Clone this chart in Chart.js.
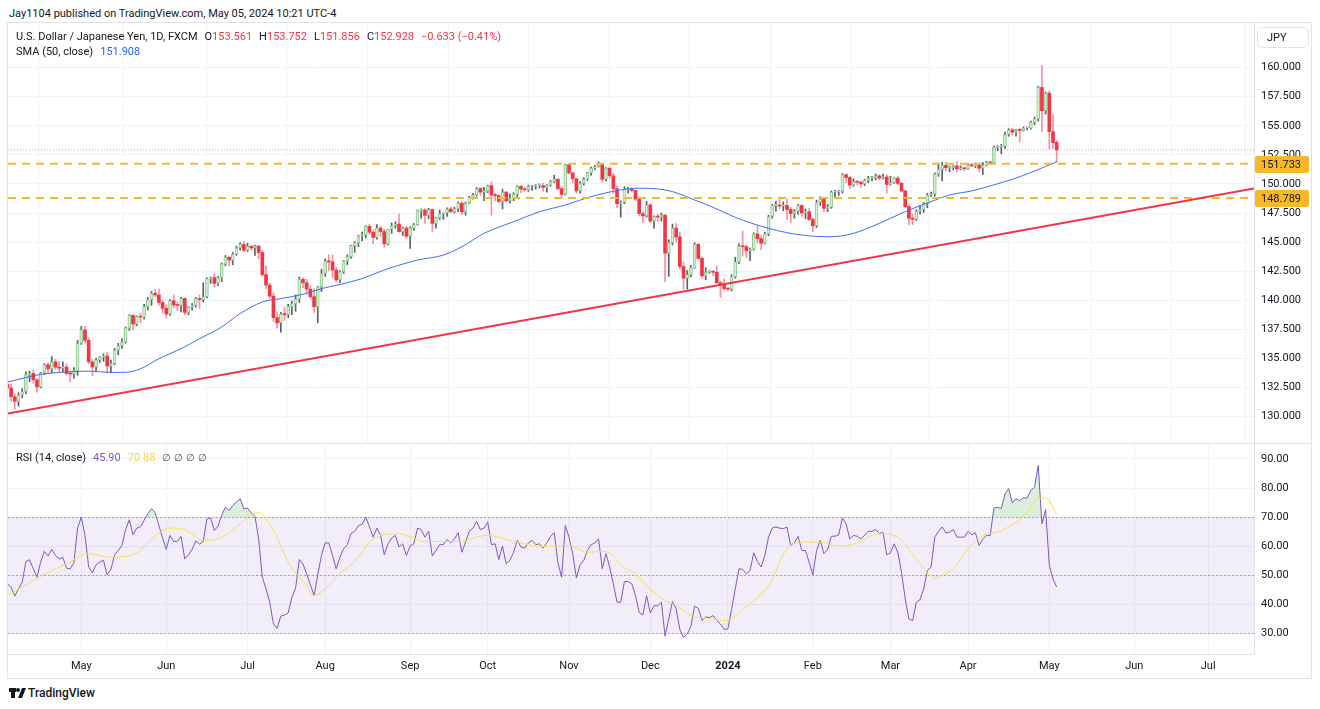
<!DOCTYPE html>
<html>
<head>
<meta charset="utf-8">
<script src="https://cdn.jsdelivr.net/npm/chart.js@4.4.1/dist/chart.umd.min.js"></script>
<style>
  html, body { margin:0; padding:0; background:#fff; }
  body { width:1320px; height:709px; position:relative; overflow:hidden; font-family: Roboto, "Noto Sans", sans-serif; color:#131722; font-size:11px; }
  .abs { position:absolute; white-space:nowrap; line-height:14px; }
  #frame { position:absolute; left:7px; top:22px; width:1305px; height:657px; border:1px solid #e0e3eb; box-sizing:border-box; }
  canvas { display:block; }
  .red { color:#f23645; }
  .blue { color:#2962ff; }
  .purple { color:#7e57c2; }
  .yellow { color:#f5d73b; }
  .gap { margin-left:7px; }
</style>
</head>
<body>
<div class="abs" style="left:9px;top:7px;">Jay1104 published on TradingView.com, May 05, 2024 10:21 UTC-4</div>
<div id="frame"></div>
<div class="abs" style="left:8px;top:23px;width:1303px;height:420px;"><canvas id="priceChart" width="1303" height="420"></canvas></div>
<div class="abs" style="left:8px;top:443px;width:1303px;height:1px;background:#e0e3eb;"></div>
<div class="abs" style="left:8px;top:444px;width:1303px;height:234px;"><canvas id="rsiChart" width="1303" height="234"></canvas></div>

<div class="abs" style="left:16px;top:30px;">U.S. Dollar / Japanese Yen, 1D, FXCM<span class="gap">O</span><span class="red">153.561</span><span class="gap">H</span><span class="red">153.752</span><span class="gap">L</span><span class="red">151.856</span><span class="gap">C</span><span class="red">152.928</span><span class="gap red">−0.633 (−0.41%)</span></div>
<div class="abs" style="left:16px;top:45px;">SMA (50, close)<span class="gap blue">151.908</span></div>
<div class="abs" style="left:16px;top:451px;">RSI (14, close)<span class="gap purple">45.90</span><span class="gap yellow">70.88</span><span class="gap" style="color:#50535e;font-size:10px;letter-spacing:3px;">∅∅∅∅</span></div>
<div class="abs" style="left:1257px;top:27px;width:52px;height:21px;border:1px solid #e0e3eb;border-radius:6px;box-sizing:border-box;line-height:19px;padding-left:9px;font-size:11px;">JPY</div>

<div class="abs" style="left:9px;top:688px;width:7px;height:4px;background:#131722;"></div>
<div class="abs" style="left:11px;top:688px;width:4px;height:10px;background:#131722;"></div>
<div class="abs" style="left:16px;top:688px;width:4px;height:4px;border-radius:2px;background:#131722;"></div>
<div class="abs" style="left:20px;top:688px;width:4px;height:10px;background:#131722;transform:skewX(-22deg);"></div>
<div class="abs" style="left:28px;top:686px;font-size:12px;font-weight:500;">TradingView</div>

<script>
// ---------- DATA (daily USD/JPY, FXCM, bar index 0 = 3 Apr 2023) ----------
const open = [
132.75,132.45,131.70,131.30,131.85,132.15,133.60,133.70,133.15,132.55,
133.75,134.45,134.10,134.70,134.25,134.15,134.25,133.70,133.65,133.95,
136.30,137.45,136.55,134.70,134.25,134.85,135.10,135.20,134.35,134.55,
135.70,136.10,136.40,137.60,138.70,137.95,138.60,138.55,139.45,140.05,
140.60,140.45,139.80,139.30,138.80,139.95,139.60,139.55,140.15,138.95,
139.40,139.55,140.15,140.05,140.30,141.85,141.95,141.45,141.95,143.10,
143.70,143.45,143.95,144.50,144.80,144.30,144.65,144.50,144.65,144.10,
142.20,141.30,140.35,138.50,138.05,138.80,138.75,139.45,139.70,140.10,
141.80,141.50,140.95,140.30,139.45,141.15,142.30,143.35,143.30,142.60,
141.75,142.45,143.35,143.75,144.70,144.95,145.55,145.60,146.35,145.85,
145.40,146.20,145.90,144.85,146.10,146.40,146.55,145.90,146.20,145.50,
146.20,146.50,147.70,147.75,147.30,147.80,146.60,147.10,147.45,147.50,
147.85,147.60,147.85,148.35,147.60,148.35,148.85,149.05,149.60,149.30,
149.35,149.85,149.05,149.00,148.50,149.30,148.55,148.75,149.10,149.80,
149.55,149.50,149.80,149.80,149.85,149.85,149.70,149.90,150.20,150.40,
149.60,149.10,151.65,150.95,150.45,149.40,150.05,150.40,150.95,151.35,
151.50,151.70,150.40,151.35,150.70,149.60,148.30,148.40,149.55,149.55,
149.45,148.70,147.45,147.25,148.20,146.80,147.20,147.15,147.30,144.05,
144.95,146.20,145.45,142.90,141.90,142.20,142.80,144.80,143.60,142.10,
142.40,142.45,142.40,141.50,141.40,141.00,140.95,142.00,143.30,144.65,
144.60,144.25,144.40,145.70,145.30,144.90,145.70,147.20,148.15,148.15,
148.10,148.15,147.80,147.45,147.65,148.15,147.50,147.60,146.95,146.40,
148.40,148.70,147.90,148.00,149.30,149.30,149.35,150.80,150.55,149.90,
150.20,150.15,150.00,150.30,150.50,150.50,150.70,150.50,150.60,149.95,
150.10,150.50,150.05,149.40,148.05,147.05,146.95,147.65,147.80,148.30,
149.05,149.15,150.85,151.25,151.60,151.40,151.40,151.55,151.30,151.35,
151.30,151.65,151.55,151.60,151.35,151.60,151.85,151.80,153.15,153.20,
153.25,154.25,154.65,154.45,154.70,154.60,154.80,154.80,155.30,155.60,
158.30,156.30,157.80,154.50,153.561];
const high = [
133.00,132.80,131.95,132.05,132.40,133.85,133.90,134.00,133.25,133.80,
134.55,134.60,135.15,134.90,134.75,134.70,134.55,133.90,134.20,136.55,
137.75,137.75,136.75,134.90,135.00,135.15,135.40,135.50,134.85,135.85,
136.30,136.70,137.70,138.75,138.75,138.65,138.90,139.65,140.25,140.75,
140.95,140.95,140.00,139.60,140.05,140.45,139.85,140.25,140.20,139.45,
139.70,140.25,140.45,141.50,141.95,142.00,142.25,142.05,143.20,143.85,
143.75,144.10,144.65,144.95,145.05,144.90,144.70,144.75,144.70,144.30,
142.95,141.45,140.65,139.00,138.95,139.40,139.65,139.95,140.45,142.00,
141.95,141.80,141.30,141.00,141.20,142.65,143.55,143.90,143.90,142.85,
142.55,143.40,143.90,144.75,145.05,145.60,145.85,146.40,146.55,146.05,
146.50,146.40,146.10,146.10,146.65,146.75,147.40,146.30,146.35,146.30,
146.60,147.75,147.85,147.85,147.90,147.85,147.15,147.75,147.50,147.95,
148.00,148.00,148.45,148.45,148.45,148.95,149.20,149.70,149.70,149.70,
149.90,150.16,149.20,149.05,149.55,149.35,149.15,149.25,149.85,149.85,
149.75,149.90,149.90,149.95,150.00,150.05,149.95,150.30,150.75,150.45,
149.80,151.70,151.70,151.00,150.50,150.20,150.55,151.00,151.45,151.60,
151.90,151.75,151.40,151.40,150.90,149.80,148.55,149.75,149.70,149.70,
149.45,148.85,147.60,148.50,148.30,147.25,147.40,147.50,147.40,145.20,
146.55,146.60,145.85,143.30,142.55,143.00,144.95,144.90,143.70,142.80,
142.55,142.55,142.95,141.65,141.85,141.10,142.20,143.70,144.85,145.95,
144.75,144.50,145.80,146.40,145.55,145.85,147.30,148.25,148.50,148.80,
148.45,148.70,148.00,147.80,148.25,148.20,147.85,147.90,147.10,148.60,
148.90,148.80,148.25,149.40,149.45,149.45,150.90,150.85,150.65,150.45,
150.30,150.20,150.40,150.65,150.65,150.85,150.80,150.85,150.80,150.65,
150.55,150.60,150.15,149.45,148.25,147.40,147.80,148.15,148.40,149.20,
149.30,150.95,151.80,151.85,151.85,151.55,151.60,151.95,151.55,151.45,
151.75,151.80,151.80,151.70,151.85,151.95,151.95,153.25,153.30,153.40,
154.45,154.75,154.80,154.70,154.75,154.90,154.90,155.40,155.75,158.40,
160.20,157.90,158.00,155.95,153.752];
const low = [
132.20,131.30,130.63,130.90,131.60,131.95,133.00,132.85,132.10,132.45,
133.60,133.75,133.75,134.05,133.85,133.85,133.55,133.00,133.30,133.55,
136.20,136.30,134.55,133.50,133.90,134.65,134.75,133.75,133.75,134.45,
135.30,135.85,136.30,137.40,137.45,137.80,138.05,138.40,139.15,139.55,
140.30,139.55,138.90,138.45,138.70,139.35,139.10,139.00,138.75,138.75,
139.15,139.40,139.30,139.85,140.20,141.45,141.15,141.25,141.60,142.95,
142.95,143.05,143.85,144.30,144.15,144.20,144.30,143.85,143.55,142.05,
141.00,140.15,138.15,137.60,137.25,138.25,138.50,138.75,139.05,139.80,
141.05,140.50,140.15,138.95,138.05,140.75,142.05,142.55,141.95,141.55,
141.50,142.30,143.05,143.60,144.10,144.60,145.10,145.35,145.65,144.85,
145.25,145.50,144.55,144.75,145.75,146.20,145.85,145.55,145.35,144.45,
146.00,146.45,147.05,146.60,147.00,145.90,146.20,146.95,146.95,147.20,
147.60,147.50,147.60,147.35,147.30,148.30,148.70,148.95,149.05,148.55,
149.25,147.30,148.55,148.40,147.85,148.45,148.35,148.55,148.85,149.25,
149.35,149.35,149.45,149.55,149.65,149.35,149.30,149.80,150.10,149.50,
148.80,149.05,150.85,150.10,149.20,149.20,149.90,150.30,150.75,151.20,
151.45,150.15,150.25,150.50,149.20,147.95,147.15,148.30,149.20,149.30,
148.55,147.25,146.65,147.15,146.70,146.20,146.75,146.80,141.60,142.05,
144.75,145.00,142.70,140.95,140.95,142.00,142.75,143.45,141.90,141.75,
142.30,142.10,141.45,140.25,140.85,140.80,140.80,141.90,143.15,143.80,
143.65,143.40,144.30,144.95,144.35,144.85,145.55,147.05,147.65,147.85,
147.70,146.95,146.65,147.05,147.40,147.20,147.00,146.80,145.90,146.25,
148.15,147.60,147.60,147.90,148.90,149.00,149.20,150.10,149.60,149.80,
149.90,149.70,149.85,150.10,150.25,150.35,150.35,150.40,149.20,149.90,
150.05,149.90,149.30,147.95,146.50,146.50,146.85,147.40,147.55,147.95,
148.90,148.95,150.65,150.25,151.15,151.05,151.20,151.05,151.20,151.15,
151.25,151.50,151.40,151.05,150.80,151.55,151.70,151.75,152.85,152.60,
153.05,154.10,154.20,154.10,153.60,154.55,154.65,154.70,155.10,155.40,
154.50,156.00,153.00,153.05,151.856];
const close = [
132.45,131.70,131.30,131.85,132.15,133.60,133.70,133.15,132.55,133.75,
134.45,134.10,134.70,134.25,134.15,134.25,133.70,133.65,133.95,136.30,
137.45,136.55,134.70,134.25,134.85,135.10,135.20,134.35,134.55,135.70,
136.10,136.40,137.60,138.70,137.95,138.60,138.55,139.45,140.05,140.60,
140.45,139.80,139.30,138.80,139.95,139.60,139.55,140.15,138.95,139.40,
139.55,140.15,140.05,140.30,141.85,141.95,141.45,141.95,143.10,143.70,
143.45,143.95,144.50,144.80,144.30,144.65,144.50,144.65,144.10,142.20,
141.30,140.35,138.50,138.05,138.80,138.75,139.45,139.70,140.10,141.80,
141.50,140.95,140.30,139.45,141.15,142.30,143.35,143.30,142.60,141.75,
142.45,143.35,143.75,144.70,144.95,145.55,145.60,146.35,145.85,145.40,
146.20,145.90,144.85,146.10,146.40,146.55,145.90,146.20,145.50,146.20,
146.50,147.70,147.75,147.30,147.80,146.60,147.10,147.45,147.50,147.85,
147.60,147.85,148.35,147.60,148.35,148.85,149.05,149.60,149.30,149.35,
149.85,149.05,149.00,148.50,149.30,148.55,148.75,149.10,149.80,149.55,
149.50,149.80,149.80,149.85,149.85,149.70,149.90,150.20,150.40,149.60,
149.10,151.65,150.95,150.45,149.40,150.05,150.40,150.95,151.35,151.50,
151.70,150.40,151.35,150.70,149.60,148.30,148.40,149.55,149.55,149.45,
148.70,147.45,147.25,148.20,146.80,147.20,147.15,147.30,144.05,144.95,
146.20,145.45,142.90,141.90,142.20,142.80,144.80,143.60,142.10,142.40,
142.45,142.40,141.50,141.40,141.00,140.95,142.00,143.30,144.65,144.60,
144.25,144.40,145.70,145.30,144.90,145.70,147.20,148.15,148.15,148.10,
148.15,147.80,147.45,147.65,148.15,147.50,147.60,146.95,146.40,148.40,
148.70,147.90,148.00,149.30,149.30,149.35,150.80,150.55,149.90,150.20,
150.15,150.00,150.30,150.50,150.50,150.70,150.50,150.60,149.95,150.10,
150.50,150.05,149.40,148.05,147.05,146.95,147.65,147.80,148.30,149.05,
149.15,150.85,151.25,151.60,151.40,151.40,151.55,151.30,151.35,151.30,
151.65,151.55,151.60,151.35,151.60,151.85,151.80,153.15,153.20,153.25,
154.25,154.65,154.45,154.60,154.60,154.80,154.80,155.30,155.60,158.30,
156.30,157.80,154.50,153.55,152.928];

// SMA(50) read at selected bars
const smaBars = [0,9,16,22,28,32,36,41,47,52,58,63,69,74,80,85,90,96,102,111,118,123,129,137,144,151,158,166,171,176,180,186,191,197,206,215,223,229,235,243,250,255,261,266,272,277,282,284];
const smaValues = [132.96,133.62,133.82,133.90,133.79,133.80,134.10,134.97,135.83,136.69,137.70,138.85,139.85,140.14,140.51,141.00,141.35,141.86,142.60,143.45,143.88,144.60,145.75,146.75,147.60,148.19,148.91,149.48,149.63,149.57,149.34,148.62,147.99,147.13,146.18,145.60,145.46,145.75,146.47,147.62,148.48,149.05,149.40,149.83,150.40,150.98,151.64,151.908];

// RSI(14) per bar
const rsi = [
47.0,45.9,42.8,45.3,47.6,54.7,55.3,52.2,49.3,54.5,
58.2,56.6,58.9,56.8,55.6,56.2,52.4,52.2,54.3,66.2,
70.0,63.7,52.8,50.8,53.6,54.5,55.1,50.1,52.0,57.0,
58.5,60.2,65.7,69.1,63.9,66.2,66.6,68.9,71.1,72.9,
71.5,67.1,62.8,58.9,63.7,61.6,61.6,63.4,55.6,57.0,
58.9,61.8,60.7,61.6,69.4,69.7,65.4,66.9,70.6,73.4,
72.3,74.0,75.2,76.3,72.9,73.1,71.5,70.3,62.5,49.3,
45.3,40.7,33.2,31.7,35.9,36.3,37.0,42.4,45.5,55.4,
53.9,50.5,46.7,43.0,50.1,56.8,61.1,61.1,56.8,52.2,
56.2,59.1,60.5,64.3,65.1,67.1,67.5,70.0,66.6,63.1,
66.2,63.7,57.0,60.8,62.8,63.7,59.7,60.8,56.8,60.0,
60.8,66.2,65.7,63.1,65.1,56.6,58.5,60.5,60.5,62.3,
61.1,62.5,64.6,57.9,61.4,65.1,66.2,68.5,65.7,66.2,
68.3,60.5,60.8,55.4,60.0,53.9,55.1,57.9,62.0,59.7,
59.3,61.1,62.0,60.5,60.8,59.3,61.1,63.4,64.6,54.3,
49.3,67.1,63.1,57.4,49.0,53.6,55.1,58.5,60.5,61.1,
62.5,52.2,57.4,52.8,47.0,40.7,40.7,47.8,47.8,47.0,
43.0,37.2,36.3,43.0,37.0,39.5,39.5,40.7,29.0,34.9,
40.9,38.4,31.3,28.6,29.8,32.4,39.3,38.6,34.4,35.6,
35.4,36.1,34.4,33.2,31.3,31.5,38.2,45.3,52.2,52.0,
50.5,51.6,57.7,54.7,52.8,56.8,63.1,66.2,66.6,66.2,
66.0,66.6,60.2,61.1,63.4,58.5,58.5,54.5,50.1,58.5,
62.0,57.4,58.9,63.4,63.4,63.9,69.7,67.7,62.5,63.7,
63.4,62.5,63.7,65.1,65.1,65.7,64.3,64.8,57.0,57.7,
60.8,57.9,51.0,41.8,34.9,34.4,40.7,41.6,45.3,51.6,
52.8,63.1,65.1,66.6,64.6,64.8,65.7,63.1,63.1,63.1,
65.1,63.9,64.6,60.2,62.5,63.7,63.7,73.1,73.4,72.9,
78.0,79.8,74.9,76.3,75.7,76.6,76.6,79.2,80.3,87.8,
67.7,72.6,53.3,48.7,45.9];

// RSI-based MA read at selected bars
const rsiMaBars = [0,7,12,16,22,28,35,39,44,48,53,57,62,66,68,72,76,81,83,86,90,94,99,106,113,122,130,136,141,144,147,152,157,161,164,166,170,174,178,181,185,189,195,198,202,206,211,215,220,225,230,234,238,242,246,251,253,256,260,264,268,273,276,279,281,284];
const rsiMaValues = [43.0,48.2,51.6,53.9,57.4,56.2,57.7,62.5,66.2,65.7,62.0,62.5,66.6,70.8,71.5,65.4,54.5,46.4,43.0,45.3,50.5,54.7,62.5,64.3,61.6,61.6,63.7,62.0,60.5,59.7,60.0,60.2,57.9,58.2,56.8,53.3,50.5,45.3,41.3,39.5,36.1,35.2,34.4,37.2,41.3,46.4,59.1,61.4,61.4,60.0,61.1,63.7,64.3,62.0,55.6,49.0,49.9,52.2,59.1,63.7,64.8,68.3,71.7,76.3,76.6,70.88];

// Horizontal levels and trend line (bar index, price)
const levels = [151.733, 148.789];
const trendBars = [0.16, 337.4];
const trendPrices = [130.26, 149.61];

// Tick labels
const priceTicks = [130,132.5,135,137.5,140,142.5,145,147.5,150,152.5,155,157.5,160];
const rsiTicks = [30,40,50,60,70,80,90];
const monthBars = [20,43,65,86,109,130,152,174,195,218,239,260,282,305,325];
const monthLabels = ['May','Jun','Jul','Aug','Sep','Oct','Nov','Dec','2024','Feb','Mar','Apr','May','Jun','Jul'];
const rsiBand = [30, 50, 70];

// ---------- VIEW ----------
const FONT = 'Roboto, "Noto Sans", sans-serif';
const X_MIN = 0.16, X_MAX = 337.4;
const UP_FILL = '#d6efd7', UP_EDGE = '#86c989', DOWN = '#f23645';
const UP_WICK = '#5d606b', DOWN_WICK = 'rgba(242,54,69,0.55)';
const LEVEL_COLOR = '#f7b928';
const GRID = '#f0f2f6';
const BORDER = '#e0e3eb';

const bars = close.map((_, i) => i);
const isUp = i => close[i] >= open[i];

const lineDefaults = { type:'line', pointRadius:0, fill:false, tension:0 };

const levelLabelPlugin = {
  id: 'levelLabels',
  afterDraw(chart) {
    const { ctx, chartArea, scales: { y } } = chart;
    ctx.save();
    levels.forEach(v => {
      const py = Math.round(y.getPixelForValue(v));
      ctx.fillStyle = LEVEL_COLOR;
      ctx.beginPath();
      ctx.roundRect(chartArea.right + 1, py - 8, 54, 17, 2);
      ctx.fill();
      ctx.fillStyle = '#131722';
      ctx.font = '11px ' + FONT;
      ctx.textBaseline = 'middle';
      ctx.textAlign = 'left';
      ctx.fillText(v.toFixed(3), chartArea.right + 7, py + 1);
    });
    ctx.restore();
  }
};

const monthAfterBuild = s => { s.ticks = monthBars.map(v => ({ value: v })); };

new Chart(document.getElementById('priceChart'), {
  type: 'bar',
  data: {
    datasets: [
      Object.assign({}, lineDefaults, { data: trendBars.map((b, k) => ({ x: b, y: trendPrices[k] })), borderColor: '#f23645', borderWidth: 2, order: 0 }),
      ...levels.map(v => Object.assign({}, lineDefaults, { data: [{ x: X_MIN, y: v }, { x: X_MAX, y: v }], borderColor: LEVEL_COLOR, borderWidth: 2, borderDash: [8, 6], order: 0 })),
      Object.assign({}, lineDefaults, { data: [{ x: X_MIN, y: close[close.length - 1] }, { x: X_MAX, y: close[close.length - 1] }], borderColor: 'rgba(242,54,69,0.55)', borderWidth: 1, borderDash: [1, 2], order: 0 }),
      Object.assign({}, lineDefaults, { data: smaBars.map((b, k) => ({ x: b, y: smaValues[k] })), borderColor: '#3b6ef6', borderWidth: 1, cubicInterpolationMode: 'monotone', order: 1 }),
      {
        data: bars.map(i => ({ x: i, y: [open[i], close[i]] })),
        backgroundColor: c => isUp(c.dataIndex) ? UP_FILL : DOWN,
        borderColor: c => isUp(c.dataIndex) ? UP_EDGE : DOWN,
        borderWidth: c => isUp(c.dataIndex) ? 1 : 0,
        borderSkipped: false,
        barThickness: 3, minBarLength: 1, grouped: false, order: 2, clip: 0
      },
      {
        data: bars.map(i => ({ x: i, y: [low[i], high[i]] })),
        backgroundColor: c => isUp(c.dataIndex) ? UP_WICK : DOWN_WICK,
        borderWidth: 0,
        barThickness: 1, grouped: false, order: 3, clip: 0
      }
    ]
  },
  options: {
    responsive: false, animation: false, devicePixelRatio: 1, events: [],
    layout: { padding: 0 },
    plugins: { legend: { display: false }, tooltip: { enabled: false } },
    scales: {
      x: {
        type: 'linear', min: X_MIN, max: X_MAX, offset: false,
        afterBuildTicks: monthAfterBuild,
        afterFit: s => { s.height = 0; s.paddingLeft = 0; s.paddingRight = 0; },
        ticks: { display: false },
        grid: { color: GRID, drawTicks: false },
        border: { display: false }
      },
      y: {
        type: 'linear', position: 'right', min: 127.72, max: 163.84,
        afterBuildTicks: s => { s.ticks = priceTicks.map(v => ({ value: v })); },
        afterFit: s => { s.width = 57; s.paddingTop = 0; s.paddingBottom = 0; },
        ticks: { callback: v => Number(v).toFixed(3), color: '#131722', font: { family: FONT, size: 11 }, padding: 7 },
        grid: { color: GRID, drawTicks: false },
        border: { display: true, color: BORDER }
      }
    }
  },
  plugins: [levelLabelPlugin]
});

const rsiBandPlugin = {
  id: 'rsiBand',
  beforeDatasetsDraw(chart) {
    const { ctx, chartArea: a, scales: { y } } = chart;
    const yHi = y.getPixelForValue(rsiBand[2]);
    const yLo = y.getPixelForValue(rsiBand[0]);
    ctx.save();
    ctx.fillStyle = 'rgba(126,87,194,0.1)';
    ctx.fillRect(a.left, yHi, a.right - a.left, yLo - yHi);
    ctx.strokeStyle = 'rgba(120,123,134,0.6)';
    ctx.lineWidth = 1;
    ctx.setLineDash([2, 2]);
    rsiBand.forEach(v => {
      const py = Math.round(y.getPixelForValue(v)) + 0.5;
      ctx.beginPath(); ctx.moveTo(a.left, py); ctx.lineTo(a.right, py); ctx.stroke();
    });
    ctx.restore();
  }
};

new Chart(document.getElementById('rsiChart'), {
  type: 'line',
  data: {
    datasets: [
      Object.assign({}, lineDefaults, {
        data: bars.map(i => ({ x: i, y: rsi[i] })),
        borderColor: '#7e57c2', borderWidth: 1,
        fill: { target: { value: rsiBand[2] }, above: 'rgba(76,175,80,0.2)', below: 'rgba(0,0,0,0)' },
        order: 1
      }),
      Object.assign({}, lineDefaults, {
        data: rsiMaBars.map((b, k) => ({ x: b, y: rsiMaValues[k] })),
        borderColor: '#f7e04b', borderWidth: 1, cubicInterpolationMode: 'monotone', order: 0
      })
    ]
  },
  options: {
    responsive: false, animation: false, devicePixelRatio: 1, events: [],
    layout: { padding: 0 },
    plugins: { legend: { display: false }, tooltip: { enabled: false } },
    scales: {
      x: {
        type: 'linear', min: X_MIN, max: X_MAX, offset: false, position: 'bottom',
        afterBuildTicks: monthAfterBuild,
        afterFit: s => { s.height = 24; s.paddingLeft = 0; s.paddingRight = 0; },
        ticks: {
          autoSkip: false, maxRotation: 0, padding: 6, color: '#131722',
          callback: v => { const k = monthBars.indexOf(v); return k < 0 ? '' : monthLabels[k]; },
          font: c => ({ family: FONT, size: 11, weight: (c.tick && c.tick.value === monthBars[8]) ? 'bold' : 'normal' })
        },
        grid: { color: GRID, drawTicks: false },
        border: { display: true, color: BORDER }
      },
      y: {
        type: 'linear', position: 'right', min: 22.87, max: 95.16,
        afterBuildTicks: s => { s.ticks = rsiTicks.map(v => ({ value: v })); },
        afterFit: s => { s.width = 57; s.paddingTop = 0; s.paddingBottom = 0; },
        ticks: { callback: v => Number(v).toFixed(2), color: '#131722', font: { family: FONT, size: 11 }, padding: 7 },
        grid: { color: GRID, drawTicks: false },
        border: { display: true, color: BORDER }
      }
    }
  },
  plugins: [rsiBandPlugin]
});
</script>
</body>
</html>
